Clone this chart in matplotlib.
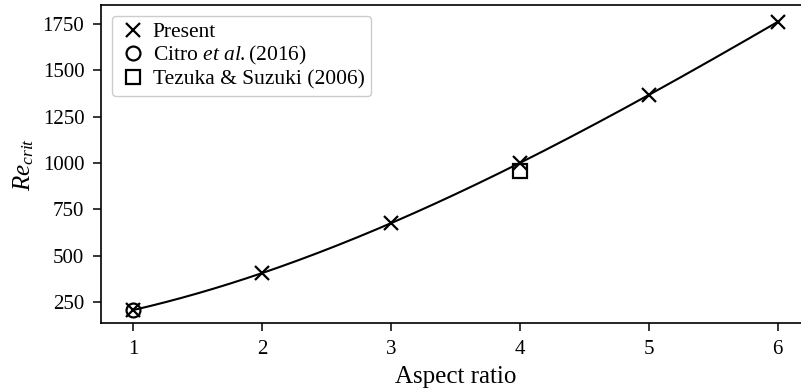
import numpy as np
import matplotlib
matplotlib.use("Agg")
import matplotlib.pyplot as plt

# critical Reynolds number against cavity aspect ratio
aspect = [1, 2, 3, 4, 5, 6]
re_present = [207, 406, 676, 1000, 1367, 1761]
citro_aspect = [1]
citro_re = [207]
tezuka_aspect = [4]
tezuka_re = [955]

plt.rcParams["font.family"] = ["Liberation Serif", "DejaVu Serif"]
plt.rcParams["mathtext.fontset"] = "custom"
plt.rcParams["mathtext.rm"] = "Liberation Serif"
plt.rcParams["mathtext.it"] = "Liberation Serif:italic"

fig = plt.figure(figsize=(8.01, 3.91), dpi=100)
ax = fig.add_axes([0.1261, 0.1739, 0.885, 0.8133])

# smooth cubic through the present results
coef = np.polyfit(aspect, re_present, 3)
xs = np.linspace(aspect[0], aspect[-1], 200)
ax.plot(xs, np.polyval(coef, xs), color="black", lw=1.5, zorder=2)

ax.plot(aspect, re_present, "x", color="black", ms=10, mew=1.6, ls="none",
        label="Present", zorder=3)
ax.plot(citro_aspect, citro_re, "o", mfc="none", mec="black", ms=10, mew=1.6,
        ls="none", label=r"Citro $\it{et\ al.}$(2016)", zorder=3)
ax.plot(tezuka_aspect, tezuka_re, "s", mfc="none", mec="black", ms=10, mew=1.6,
        ls="none", label="Tezuka & Suzuki (2006)", zorder=3)

ax.set_xlim(0.75, 6.25)
ax.set_ylim(137, 1852)
ax.set_xticks(aspect)
ax.set_yticks([250, 500, 750, 1000, 1250, 1500, 1750])
ax.tick_params(labelsize=15, width=1.1, length=6, pad=6)
for s in ax.spines.values():
    s.set_linewidth(1.2)

ax.set_xlabel("Aspect ratio", fontsize=18, labelpad=5)
ax.set_ylabel(r"$Re_{crit}$", fontsize=18, labelpad=5)

ax.legend(loc="upper left", fontsize=15.5, handletextpad=0.2, borderpad=0.3,
          labelspacing=0.1, handlelength=1.4, borderaxespad=0.5,
          edgecolor="#cccccc", framealpha=1.0)

fig.savefig("out.png", dpi=100)
